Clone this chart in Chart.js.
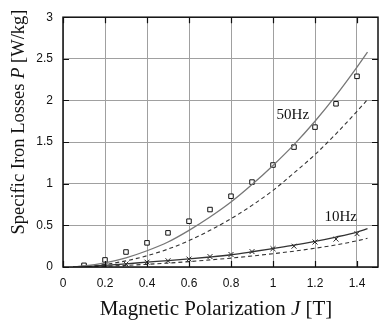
<!DOCTYPE html>
<html><head><meta charset="utf-8">
<script src="https://cdn.jsdelivr.net/npm/chart.js@4/dist/chart.umd.min.js"></script>
<style>html,body{margin:0;padding:0;background:#fff;overflow:hidden;width:379px;height:327px}
#wrap{position:absolute;left:0;top:0;width:383px;height:327px}</style>
</head><body><div id="wrap"><canvas id="c" width="383" height="327"></canvas></div>
<script>
// Measured points
const measJ = [0.1,0.2,0.3,0.4,0.5,0.6,0.7,0.8,0.9,1.0,1.1,1.2,1.3,1.4];
const meas50 = [0.02,0.085,0.18,0.29,0.41,0.55,0.69,0.85,1.02,1.225,1.44,1.68,1.96,2.29];
const meas10 = [0.005,0.018,0.035,0.058,0.075,0.095,0.125,0.15,0.185,0.22,0.25,0.30,0.335,0.40];
// Model curves
const curveJ = [0.05,0.1,0.2,0.3,0.4,0.5,0.6,0.7,0.8,0.9,1.0,1.1,1.2,1.3,1.4,1.45];
const solid50 = [0.003,0.012,0.05,0.11,0.195,0.30,0.44,0.60,0.78,0.99,1.22,1.47,1.75,2.06,2.40,2.58];
const dash50  = [0.002,0.007,0.031,0.074,0.135,0.215,0.317,0.44,0.58,0.74,0.92,1.13,1.35,1.60,1.87,2.01];
const solid10 = [0.002,0.006,0.02,0.038,0.058,0.076,0.097,0.12,0.147,0.183,0.222,0.262,0.308,0.36,0.42,0.46];
const dash10  = [0.001,0.003,0.01,0.02,0.032,0.047,0.065,0.085,0.107,0.132,0.16,0.19,0.225,0.265,0.315,0.345];
const xTicks = [0,0.2,0.4,0.6,0.8,1,1.2,1.4];
const yTicks = [0,0.5,1,1.5,2,2.5,3];
const curveLabels = [{text:'50Hz', x:1.017, y:1.78},{text:'10Hz', x:1.245, y:0.55}];

const pts = (xs, ys) => xs.map((x,i)=>({x, y:ys[i]}));
const tickFont = {family:"'Liberation Sans', Arial, sans-serif", size:12};

const framePlugin = {
  id:'frame',
  afterDraw(chart){
    const {ctx, chartArea:a, scales:{x, y}} = chart;
    ctx.save();
    ctx.strokeStyle = '#111';
    ctx.lineWidth = 1.2;
    const tl = 6;
    ctx.beginPath();
    xTicks.forEach(v=>{ const px = Math.round(x.getPixelForValue(v))+0.5;
      ctx.moveTo(px, a.bottom); ctx.lineTo(px, a.bottom-tl);
      ctx.moveTo(px, a.top); ctx.lineTo(px, a.top+tl); });
    yTicks.forEach(v=>{ const py = Math.round(y.getPixelForValue(v))+0.5;
      ctx.moveTo(a.left, py); ctx.lineTo(a.left+tl, py);
      ctx.moveTo(a.right, py); ctx.lineTo(a.right-tl, py); });
    ctx.stroke();
    ctx.lineWidth = 1.5;
    ctx.strokeRect(a.left, a.top, a.right-a.left, a.bottom-a.top);
    // curve labels
    ctx.fillStyle = '#111';
    ctx.font = "15px 'Liberation Serif', 'Times New Roman', serif";
    ctx.textBaseline = 'alphabetic'; ctx.textAlign = 'left';
    curveLabels.forEach(l=>ctx.fillText(l.text, x.getPixelForValue(l.x), y.getPixelForValue(l.y)));
    // axis titles with italic symbols
    const drawParts = (parts, cx, cy) => {
      let total = 0;
      parts.forEach(p=>{ ctx.font = p.f; p.w = ctx.measureText(p.t).width; total += p.w; });
      let px = cx - total/2;
      parts.forEach(p=>{ ctx.font = p.f; ctx.fillText(p.t, px, cy); px += p.w; });
    };
    const xf = "21px 'Liberation Serif', 'Times New Roman', serif";
    const xfi = "italic 21px 'Liberation Serif', 'Times New Roman', serif";
    drawParts([{t:'Magnetic Polarization ', f:xf},{t:'J', f:xfi},{t:' [T]', f:xf}], 216, 315);
    ctx.save();
    ctx.translate(24, 122);
    ctx.rotate(-Math.PI/2);
    const yf = "18.5px 'Liberation Serif', 'Times New Roman', serif";
    const yfi = "italic 18.5px 'Liberation Serif', 'Times New Roman', serif";
    drawParts([{t:'Specific Iron Losses ', f:yf},{t:'P', f:yfi},{t:' [W/kg]', f:yf}], 0, 0);
    ctx.restore();
    ctx.restore();
  }
};

new Chart(document.getElementById('c'), {
  type:'scatter',
  data:{datasets:[
    {data:pts(curveJ, solid50), showLine:true, pointRadius:0, borderColor:'#777', borderWidth:1.3, cubicInterpolationMode:'monotone'},
    {data:pts(curveJ, dash50), showLine:true, pointRadius:0, borderColor:'#333', borderWidth:1.1, borderDash:[4,3], cubicInterpolationMode:'monotone'},
    {data:pts(curveJ, solid10), showLine:true, pointRadius:0, borderColor:'#333', borderWidth:1.3, cubicInterpolationMode:'monotone'},
    {data:pts(curveJ, dash10), showLine:true, pointRadius:0, borderColor:'#333', borderWidth:1.1, borderDash:[4,3], cubicInterpolationMode:'monotone'},
    {data:pts(measJ, meas50), showLine:false, pointStyle:'rect', pointRadius:3.2, borderColor:'#111', backgroundColor:'#fff', borderWidth:1},
    {data:pts(measJ, meas10), showLine:false, pointStyle:'crossRot', pointRadius:3.5, borderColor:'#222', borderWidth:1}
  ]},
  options:{
    responsive:false, animation:false,
    layout:{padding:{top:10, right:2, left:0, bottom:0}},
    plugins:{legend:{display:false}, tooltip:{enabled:false}},
    scales:{
      x:{type:'linear', min:0, max:1.5,
        afterBuildTicks: s=>{ s.ticks = xTicks.map(v=>({value:v})); },
        afterFit: s=>{ s.height = 60; },
        grid:{color:'#a0a0a0', lineWidth:1, drawTicks:false},
        border:{display:false},
        ticks:{font:tickFont, color:'#111', padding:9, maxRotation:0, callback:v=>String(v)}},
      y:{type:'linear', min:0, max:3,
        afterBuildTicks: s=>{ s.ticks = yTicks.map(v=>({value:v})); },
        afterFit: s=>{ s.width = 63; },
        grid:{color:'#a0a0a0', lineWidth:1, drawTicks:false},
        border:{display:false},
        ticks:{font:tickFont, color:'#111', padding:10, callback:v=>String(v)}}
    }
  },
  plugins:[framePlugin]
});
</script></body></html>
